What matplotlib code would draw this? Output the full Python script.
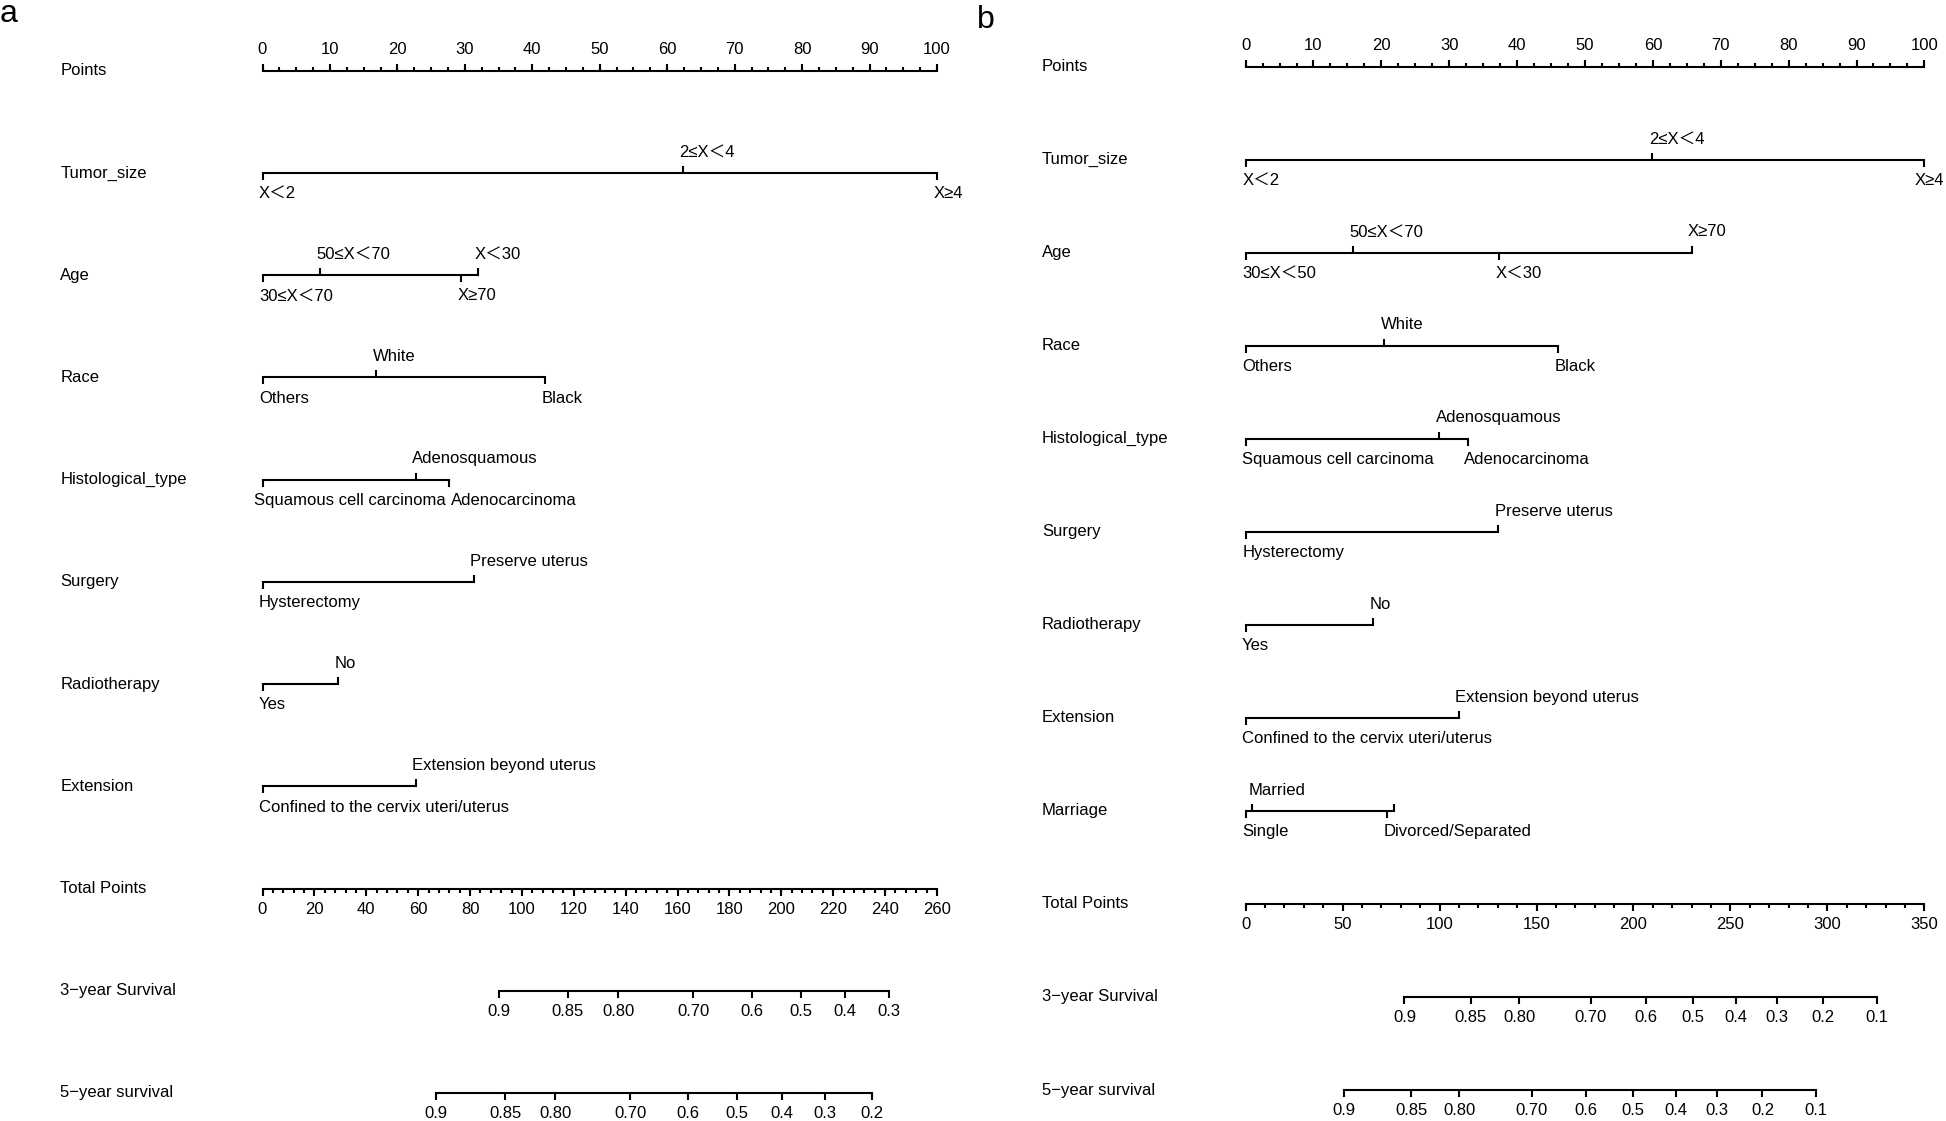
import numpy as np
import matplotlib.pyplot as plt

plt.rcParams["font.family"] = ["Liberation Sans", "Noto Sans CJK SC", "DejaVu Sans"]
plt.rcParams["font.size"] = 12

# -----------------------------
# Panel a data
# -----------------------------
a_factors = ["Tumor_size", "Age", "Race", "Histological_type",
             "Surgery", "Radiotherapy", "Extension"]
a_levels = [
    ["X＜2", "2≤X＜4", "X≥4"],
    ["30≤X＜70", "50≤X＜70", "X≥70", "X＜30"],
    ["Others", "White", "Black"],
    ["Squamous cell carcinoma", "Adenosquamous", "Adenocarcinoma"],
    ["Hysterectomy", "Preserve uterus"],
    ["Yes", "No"],
    ["Confined to the cervix uteri/uterus", "Extension beyond uterus"],
]
a_points = [
    [0, 62.3, 100],
    [0, 8.5, 29.5, 31.9],
    [0, 16.9, 41.9],
    [0, 22.7, 27.7],
    [0, 31.3],
    [0, 11.2],
    [0, 22.7],
]
a_total_max = 260
a_total_major = 20
a_total_minor = 4
a_surv3_labels = ["0.9", "0.85", "0.80", "0.70", "0.6", "0.5", "0.4", "0.3"]
a_surv3_total = [91.0, 117.7, 137.2, 166.1, 188.5, 207.5, 224.6, 241.5]
a_surv5_labels = ["0.9", "0.85", "0.80", "0.70", "0.6", "0.5", "0.4", "0.3", "0.2"]
a_surv5_total = [66.7, 93.6, 112.9, 141.8, 163.9, 183.0, 200.3, 216.9, 234.9]

# -----------------------------
# Panel b data
# -----------------------------
b_factors = ["Tumor_size", "Age", "Race", "Histological_type",
             "Surgery", "Radiotherapy", "Extension", "Marriage"]
b_levels = [
    ["X＜2", "2≤X＜4", "X≥4"],
    ["30≤X＜50", "50≤X＜70", "X＜30", "X≥70"],
    ["Others", "White", "Black"],
    ["Squamous cell carcinoma", "Adenosquamous", "Adenocarcinoma"],
    ["Hysterectomy", "Preserve uterus"],
    ["Yes", "No"],
    ["Confined to the cervix uteri/uterus", "Extension beyond uterus"],
    ["Single", "Married", "Divorced/Separated", ""],
]
b_points = [
    [0, 59.9, 100],
    [0, 15.8, 37.4, 65.7],
    [0, 20.4, 46.0],
    [0, 28.5, 32.7],
    [0, 37.2],
    [0, 18.8],
    [0, 31.4],
    [0, 0.9, 20.9, 21.8],
]
b_total_max = 350
b_total_major = 50
b_total_minor = 10
b_surv3_labels = ["0.9", "0.85", "0.80", "0.70", "0.6", "0.5", "0.4", "0.3", "0.2", "0.1"]
b_surv3_total = [81.9, 116.0, 141.2, 177.9, 206.6, 230.8, 252.7, 273.9, 297.5, 325.5]
b_surv5_labels = ["0.9", "0.85", "0.80", "0.70", "0.6", "0.5", "0.4", "0.3", "0.2", "0.1"]
b_surv5_total = [50.9, 85.4, 110.2, 147.6, 175.6, 199.5, 221.7, 243.0, 266.5, 294.2]

LW = 1.5
OFF = 15      # label offset from the line, points
W, H = 1946, 1121
level_texts = []   # (row id, side, annotation) for overlap fixing


def label(ax, txt, x, y, up, ha="center", dx=0):
    return ax.annotate(txt, (x, y), xytext=(dx, OFF if up else -OFF),
                       textcoords="offset points", ha=ha, va="center",
                       annotation_clip=False)


def ticks(ax, xs, y, up, size):
    ax.plot(xs, [y] * len(xs), ls="none", marker=2 if up else 3,
            markersize=size, mew=LW, color="black", clip_on=False)


def numeric_axis(ax, y, vmax, major, minor, up):
    scale = 100 / vmax
    ax.plot([0, 100], [y, y], color="black", lw=LW, clip_on=False)
    ticks(ax, np.arange(0, vmax + 1e-9, minor) * scale, y, up, 2.8)
    majors = np.arange(0, vmax + 1e-9, major)
    ticks(ax, majors * scale, y, up, 4.8)
    for v in majors:
        label(ax, f"{v:g}", v * scale, y, up)


def factor_row(ax, y, levels, pts):
    ax.plot([min(pts), max(pts)], [y, y], color="black", lw=LW, clip_on=False)
    order = np.argsort(pts, kind="stable")
    for k, i in enumerate(order):
        up = k % 2 == 1
        ticks(ax, [pts[i]], y, up, 4.8)
        t = label(ax, levels[i], pts[i], y, up, ha="left", dx=-2.5)
        level_texts.append(((id(ax), y), up, t))


def survival_row(ax, y, labels, totals, vmax):
    xs = np.array(totals) / vmax * 100
    ax.plot([xs[0], xs[-1]], [y, y], color="black", lw=LW, clip_on=False)
    ticks(ax, xs, y, False, 4.8)
    for t, x in zip(labels, xs):
        label(ax, t, x, y, False)


def panel(fig, box, factors, levels, points, tmax, tmaj, tmin,
          s3_lab, s3_tot, s5_lab, s5_tot):
    x0, x1, y0, y1 = box
    ax = fig.add_axes([x0 / W, 1 - y1 / H, (x1 - x0) / W, (y1 - y0) / H])
    n = len(factors) + 4
    ax.set_xlim(0, 100)
    ax.set_ylim(n - 1, 0)
    ax.set_axis_off()

    names = ["Points"] + factors + ["Total Points", "3\u2212year Survival",
                                    "5\u2212year survival"]
    for i, nm in enumerate(names):
        ax.text(-30, i, nm, ha="left", va="center")

    numeric_axis(ax, 0, 100, 10, 2.5, True)
    for i, (lv, pt) in enumerate(zip(levels, points)):
        factor_row(ax, i + 1, lv, pt)
    numeric_axis(ax, n - 3, tmax, tmaj, tmin, False)
    survival_row(ax, n - 2, s3_lab, s3_tot, tmax)
    survival_row(ax, n - 1, s5_lab, s5_tot, tmax)
    return ax


fig = plt.figure(figsize=(19.46, 11.21), dpi=100)

panel(fig, (262.5, 937, 70.7, 1093), a_factors, a_levels, a_points,
      a_total_max, a_total_major, a_total_minor,
      a_surv3_labels, a_surv3_total, a_surv5_labels, a_surv5_total)
panel(fig, (1245.6, 1924.4, 66.7, 1090), b_factors, b_levels, b_points,
      b_total_max, b_total_major, b_total_minor,
      b_surv3_labels, b_surv3_total, b_surv5_labels, b_surv5_total)

fig.text(0 / W, 1 - 22 / H, "a", fontsize=23, va="baseline", ha="left")
fig.text(977 / W, 1 - 28 / H, "b", fontsize=23, va="baseline", ha="left")

# -----------------------------
# Spread overlapping level labels apart and keep them inside the figure
# -----------------------------
fig.canvas.draw()
r = fig.canvas.get_renderer()
px2pt = 72 / fig.dpi
groups = {}
for key, up, t in level_texts:
    groups.setdefault((key, up), []).append(t)
for ts in groups.values():
    for a, b in zip(ts[:-1], ts[1:]):
        ea, eb = a.get_window_extent(r), b.get_window_extent(r)
        gap = eb.x0 - ea.x1
        if a.get_text() and b.get_text() and gap < 5:
            shift = (5 - gap) / 2 * px2pt
            a.set_position((a.xyann[0] - shift, a.xyann[1]))
            b.set_position((b.xyann[0] + shift, b.xyann[1]))
for _, _, t in level_texts:
    e = t.get_window_extent(r)
    if e.x1 > W - 2:
        t.set_position((t.xyann[0] - (e.x1 - W + 2) * px2pt, t.xyann[1]))

fig.savefig("out.png", dpi=100)
